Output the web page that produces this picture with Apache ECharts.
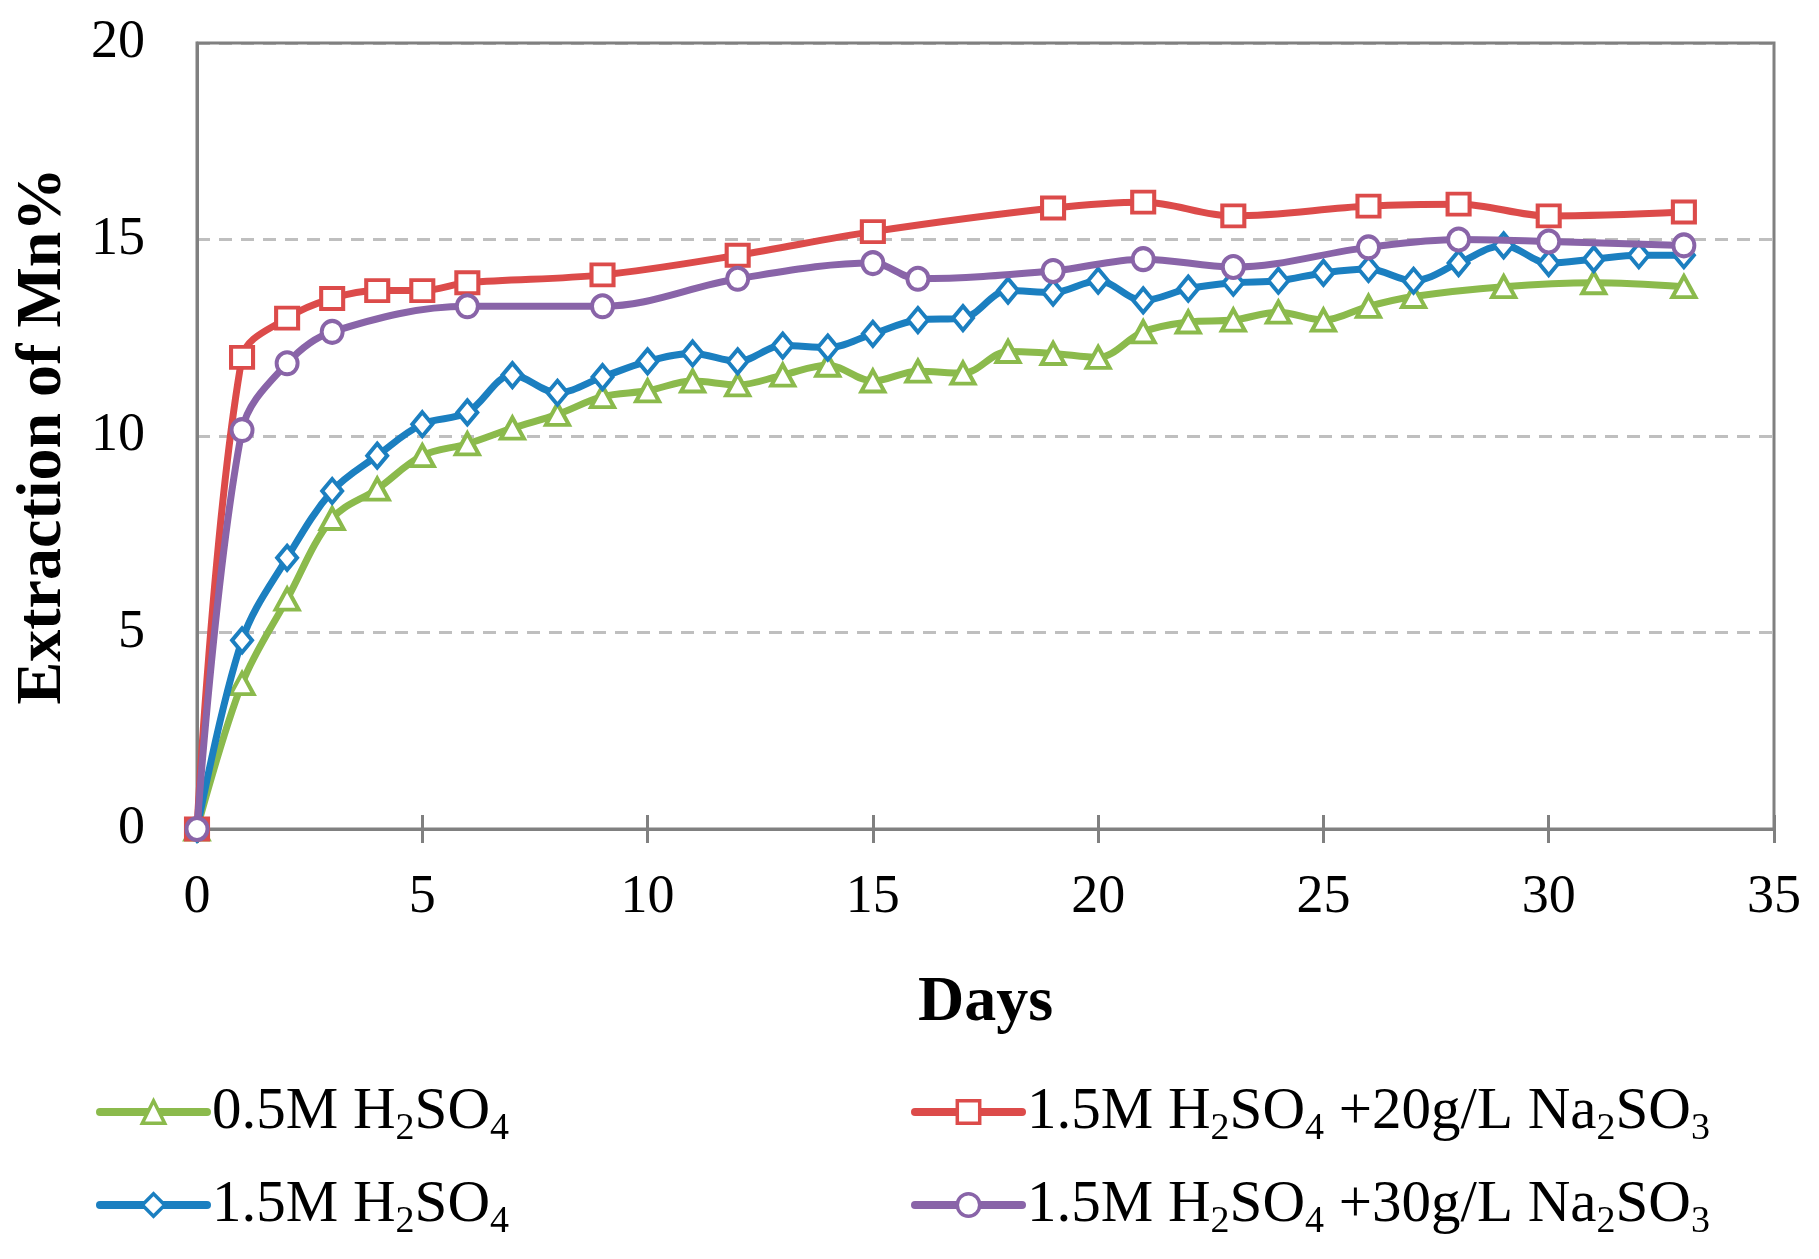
<!DOCTYPE html>
<html>
<head>
<meta charset="utf-8">
<script src="https://cdn.jsdelivr.net/npm/echarts@6/dist/echarts.min.js"></script>
<style>
html,body{margin:0;padding:0;background:#fff;}
#chart{width:1819px;height:1259px;}
</style>
</head>
<body>
<div id="chart"></div>
<script>
// ---- data ----
const seriesNames = [
  '0.5M H2SO4',
  '1.5M H2SO4',
  '1.5M H2SO4 +20g/L Na2SO3',
  '1.5M H2SO4 +30g/L Na2SO3'
];
const daysGreen = [0,1,2,3,4,5,6,7,8,9,10,11,12,13,14,15,16,17,18,19,20,21,22,23,24,25,26,27,29,31,33];
const valsGreen = [0,3.7,5.85,7.9,8.65,9.5,9.8,10.2,10.55,11.0,11.15,11.4,11.3,11.55,11.8,11.4,11.65,11.6,12.15,12.1,12.0,12.65,12.9,12.95,13.15,12.95,13.3,13.55,13.8,13.9,13.8];
const daysBlue = [0,1,2,3,4,5,6,7,8,9,10,11,12,13,14,15,16,17,18,19,20,21,22,23,24,25,26,27,28,29,30,31,32,33];
const valsBlue = [0,4.8,6.9,8.6,9.5,10.3,10.6,11.55,11.1,11.5,11.9,12.1,11.9,12.3,12.25,12.6,12.95,13.0,13.7,13.65,13.95,13.45,13.75,13.9,13.95,14.15,14.25,13.95,14.4,14.85,14.4,14.5,14.6,14.6];
const daysRed = [0,1,2,3,4,5,6,9,12,15,19,21,23,26,28,30,33];
const valsRed = [0,12.0,13.0,13.5,13.7,13.7,13.9,14.1,14.6,15.2,15.8,15.95,15.6,15.85,15.9,15.6,15.7];
const daysPurple = [0,1,2,3,6,9,12,15,16,19,21,23,26,28,30,33];
const valsPurple = [0,10.15,11.85,12.65,13.3,13.3,14.0,14.4,14.0,14.2,14.5,14.3,14.8,15.0,14.95,14.85];
const xTicks = [0,5,10,15,20,25,30,35];
const yTicks = [0,5,10,15,20];

const colors = ['#8BBA4C','#1B7FC0','#DC4B4A','#8964A8'];
const symbols = ['triangle','diamond','rect','circle'];
const symbolSizes = [[23,21],[20,24],[22,21],[21,22]];
const FONT = "'Liberation Serif','Times New Roman',serif";

function zip(xs, ys){ return xs.map((x,i)=>[x, ys[i]]); }
const seriesData = [zip(daysGreen,valsGreen), zip(daysBlue,valsBlue), zip(daysRed,valsRed), zip(daysPurple,valsPurple)];

const chart = echarts.init(document.getElementById('chart'));
const legendText = {
  fontFamily: FONT, fontSize: 59, color: '#000', lineHeight: 60,
  rich: { s: { fontFamily: FONT, fontSize: 38, color: '#000', padding: [34,0,0,0], lineHeight: 40 } }
};
const legendFmt = name => name.replace(/([A-Za-z])(\d)/g, '$1{s|$2}');
const legendCommon = {
  top: 1071, height: 400, orient: 'vertical', itemWidth: 107, itemHeight: 28, itemGap: 21,
  textStyle: legendText, formatter: legendFmt,
  lineStyle: { width: 8, cap: 'round' },
  itemStyle: { borderWidth: 3.5 }
};

const option = {
  backgroundColor: '#fff',
  animation: false,
  grid: { left: 197, top: 43, right: 45, bottom: 430, show: true, borderColor: '#808080', borderWidth: 3,
          containLabel: false, outerBoundsMode: 'none', z: 5 },
  legend: [
    Object.assign({ left: 91, data: [seriesNames[0], seriesNames[1]] }, legendCommon),
    Object.assign({ left: 906, data: [seriesNames[2], seriesNames[3]] }, legendCommon)
  ],
  xAxis: [
    { type: 'value', min: xTicks[0], max: xTicks[xTicks.length-1], interval: 5,
      name: 'Days', nameLocation: 'middle', nameGap: 142,
      nameTextStyle: { fontFamily: FONT, fontSize: 64, fontWeight: 'bold', color: '#000' },
      axisLine: { show: true, lineStyle: { color: '#808080', width: 3 } },
      axisTick: { show: true, inside: false, length: 14, lineStyle: { color: '#808080', width: 3 } },
      axisLabel: { fontFamily: FONT, fontSize: 54, color: '#000', margin: 42 },
      splitLine: { show: false } },
    { type: 'value', min: xTicks[0], max: xTicks[xTicks.length-1], interval: 5, position: 'bottom',
      axisLine: { show: false },
      axisTick: { show: true, inside: true, length: 14, lineStyle: { color: '#808080', width: 3 } },
      axisLabel: { show: false }, splitLine: { show: false } }
  ],
  yAxis: {
    type: 'value', min: yTicks[0], max: yTicks[yTicks.length-1], interval: 5,
    name: 'Extraction of Mn%', nameLocation: 'middle', nameGap: 122,
    nameTextStyle: { fontFamily: FONT, fontSize: 64, fontWeight: 'bold', color: '#000' },
    axisLine: { show: true, lineStyle: { color: '#808080', width: 3 } },
    axisTick: { show: false },
    axisLabel: { fontFamily: FONT, fontSize: 54, color: '#000', margin: 52 },
    splitLine: { show: true, lineStyle: { color: '#BFBFBF', width: 3, type: [13, 9] } }
  },
  series: seriesNames.map((n, i) => ({
    name: n, type: 'line', xAxisIndex: 0, data: seriesData[i], smooth: 0.35,
    symbol: symbols[i], symbolSize: symbolSizes[i], showAllSymbol: true,
    lineStyle: { color: colors[i], width: 7 },
    itemStyle: { color: '#fff', borderColor: colors[i], borderWidth: 4 },
    z: 10 + i
  }))
};
chart.setOption(option);
</script>
</body>
</html>
